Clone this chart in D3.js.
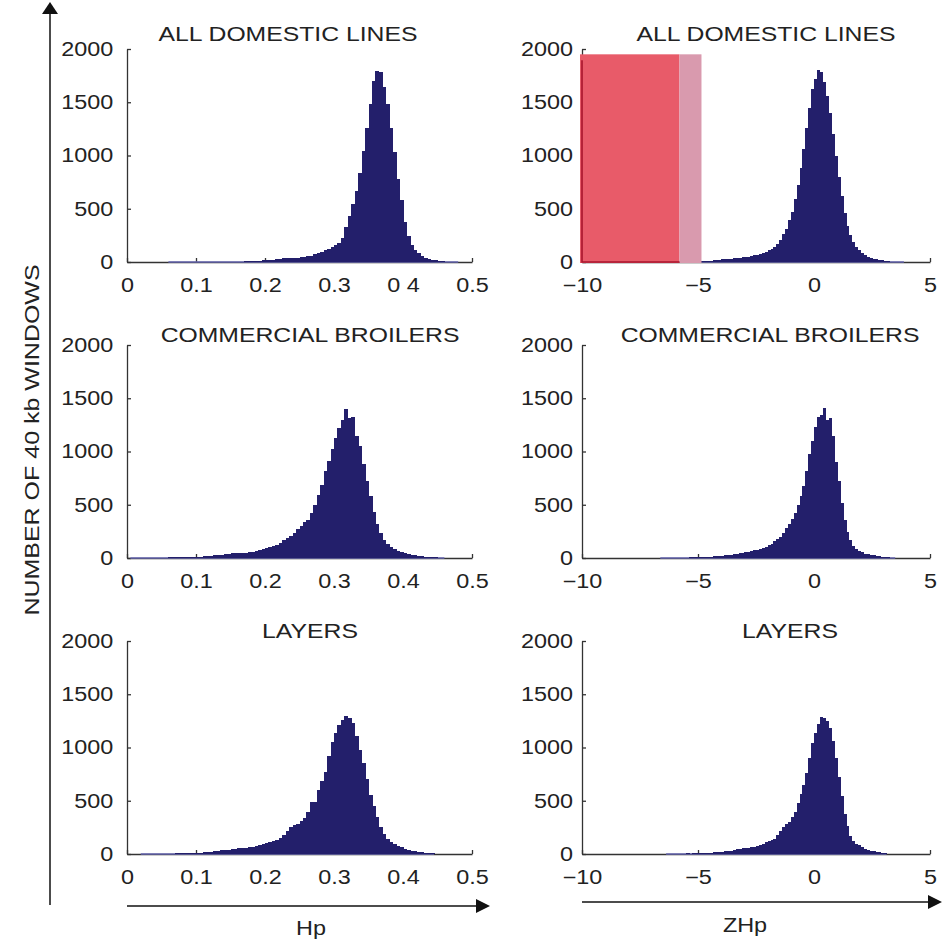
<!DOCTYPE html>
<html>
<head>
<meta charset="utf-8">
<script src="https://cdn.jsdelivr.net/npm/d3@7"></script>
<style>
  body { margin: 0; background: #fff; }
  svg text { font-family: "Liberation Sans", Arial, Helvetica, sans-serif; fill: #222; }
  .axis path, .axis line { stroke: #333; stroke-width: 1.3; }
  rect.bar { shape-rendering: crispEdges; }
</style>
</head>
<body>
<svg id="chart" width="942" height="940"></svg>
<script>
// ---- data ----
const titles = ['ALL DOMESTIC LINES', 'COMMERCIAL BROILERS', 'LAYERS'];
const hpTicks = [0, 0.1, 0.2, 0.3, 0.4, 0.5];
const zTicks = [-10, -5, 0, 5];
const yTicks = [0, 500, 1000, 1500, 2000];
const HP_BIN = 0.005;
const Z_BIN = 0.125;

// Hp histograms (counts per bin, first bin starts at *Start)
const allHpStart = 0.06;
const allHp = [1,1,1,2,1,1,2,1,1,2,2,1,2,2,2,3,2,3,3,3,4,4,5,
  8,9,10,12,15,20,22,22,25,30,34,33,38,40,42,45,48,52,60,72,82,92,108,120,138,158,180,225,
  330,430,540,670,840,1040,1260,1480,1700,1790,1780,1640,1480,1260,1030,780,580,380,240,160,
  110,82,60,42,30,22,18,10,6,3,2,1,1];

const broHpStart = 0.005;
const broHp = [2,1,3,2,1,3,2,3,4,3,4,5,5,6,6,7,8,9,10,12,14,15,18,22,26,28,32,38,42,44,45,47,48,50,
  55,60,66,72,82,90,100,112,125,145,165,185,205,235,270,305,335,360,420,500,590,690,820,910,1020,
  1130,1220,1300,1400,1310,1320,1150,1050,880,720,580,430,320,235,170,135,105,85,70,55,44,36,30,
  25,20,16,12,10,7,5,3,2];

const layHpStart = 0.02;
const layHp = [2,1,2,1,2,2,3,3,4,4,5,5,6,7,8,10,12,14,16,20,22,26,30,34,38,42,48,50,52,54,56,62,70,
  78,88,98,106,115,125,135,150,175,215,255,270,285,310,335,395,485,490,600,690,770,920,1050,1140,
  1210,1260,1295,1280,1230,1110,980,850,700,550,450,345,250,185,145,112,92,75,62,48,38,32,26,20,
  15,12,9,5];

// ZHp histograms
const allZStart = -5.75;
const allZ = [2,3,4,3,5,6,8,10,12,12,14,16,18,20,24,26,30,28,34,40,42,44,46,50,56,64,70,76,84,92,
  110,125,145,170,210,260,310,390,470,590,720,880,1060,1260,1450,1620,1720,1800,1780,1690,1560,
  1400,1200,1000,800,620,460,340,250,190,140,110,80,62,48,38,30,24,20,16,10,6,4,3,2,1,1];

const broZStart = -6.625;
const broZ = [1,1,2,1,3,2,2,3,4,3,5,5,6,8,10,12,12,14,15,16,18,20,24,27,30,34,40,44,48,52,58,64,72,
  78,86,95,105,120,135,155,175,200,235,280,320,370,420,500,580,680,820,980,1100,1230,1320,1340,
  1410,1300,1310,1150,900,720,520,360,240,170,115,85,65,52,42,34,28,24,20,16,13,10,6,3,2];

const layZStart = -6.375;
const layZ = [1,1,2,1,4,3,4,5,4,6,7,8,9,10,12,14,16,18,20,22,25,28,32,38,44,48,52,55,58,62,68,76,84,
  96,112,125,135,145,175,220,255,280,305,350,395,480,560,650,760,900,1040,1140,1220,1285,1280,
  1250,1180,1060,900,720,540,380,260,170,120,95,80,62,50,40,32,26,22,18,14,12];

// highlighted ZHp ranges (top-right panel)
const redZone = [-10, -5.8];
const pinkZone = [-5.8, -4.85];
const zoneTop = 1950;

// ---- layout ----
const svg = d3.select('#chart');
const cols = [{ x0: 127, x1: 472 }, { x0: 582, x1: 930 }];
const rowBase = [262, 558, 854];
const plotH = 213;
const titleX = [[288, 766], [310, 770], [310, 790]];
const titleY = [41, 342, 638];
const barColor = '#231f6b';

const panels = [
  [{ start: allHpStart, counts: allHp, bin: HP_BIN }, { start: allZStart, counts: allZ, bin: Z_BIN }],
  [{ start: broHpStart, counts: broHp, bin: HP_BIN }, { start: broZStart, counts: broZ, bin: Z_BIN }],
  [{ start: layHpStart, counts: layHp, bin: HP_BIN }, { start: layZStart, counts: layZ, bin: Z_BIN }]
];

panels.forEach((row, r) => {
  row.forEach((p, c) => {
    const isHp = c === 0;
    const x = d3.scaleLinear()
      .domain(isHp ? [0, 0.5] : [-10, 5])
      .range([cols[c].x0, cols[c].x1]);
    const y = d3.scaleLinear()
      .domain([0, 2000])
      .range([rowBase[r], rowBase[r] - plotH]);

    const g = svg.append('g');

    // axes, MATLAB style with inward ticks
    let fmt = isHp ? (d => d === 0 ? '0' : d3.format('.1f')(d)) : d3.format('d');
    if (r === 0 && isHp) fmt = d => d === 0.4 ? '0 4' : (d === 0 ? '0' : d3.format('.1f')(d));
    const xAxis = d3.axisBottom(x).tickValues(isHp ? hpTicks : zTicks)
      .tickFormat(fmt).tickSizeInner(-4).tickSizeOuter(0).tickPadding(16);
    const yAxis = d3.axisLeft(y).tickValues(yTicks).tickFormat(d3.format('d'))
      .tickSizeInner(-4).tickSizeOuter(0).tickPadding(isHp ? 11.5 : 7.5);

    g.append('g').attr('class', 'axis')
      .attr('transform', `translate(0,${rowBase[r]})`).call(xAxis);
    g.append('g').attr('class', 'axis')
      .attr('transform', `translate(${cols[c].x0},0)`).call(yAxis);
    g.selectAll('.axis text')
      .attr('font-size', 19.5)
      .attr('font-family', null)
      .attr('fill', '#222')
      .attr('transform', 'scale(1.2,1)');

    // histogram
    const bins = p.counts.map((v, i) => ({ x0: p.start + i * p.bin, v }));
    const last = bins[bins.length - 1];
    g.append('line')
      .attr('x1', x(bins[0].x0)).attr('x2', x(last.x0 + p.bin))
      .attr('y1', y(0)).attr('y2', y(0))
      .attr('stroke', '#6666b0').attr('stroke-width', 1.5);
    g.selectAll('rect.bar').data(bins).join('rect')
      .attr('class', 'bar')
      .attr('x', d => x(d.x0))
      .attr('width', d => x(d.x0 + p.bin) - x(d.x0) + 0.6)
      .attr('y', d => y(d.v))
      .attr('height', d => y(0) - y(d.v))
      .attr('fill', barColor);

    // highlighted regions
    if (r === 0 && !isHp) {
      g.append('rect')
        .attr('x', x(redZone[0]) - 2).attr('width', x(redZone[1]) - x(redZone[0]) + 2)
        .attr('y', y(zoneTop)).attr('height', y(0) - y(zoneTop) + 1)
        .attr('fill', '#e85b69');
      g.append('rect')
        .attr('x', x(pinkZone[0])).attr('width', x(pinkZone[1]) - x(pinkZone[0]))
        .attr('y', y(zoneTop)).attr('height', y(0) - y(zoneTop) + 1)
        .attr('fill', '#d99aae');
      g.append('path')
        .attr('d', `M${x(redZone[0])},${y(zoneTop) + 6}V${y(0)}H${x(redZone[1])}`)
        .attr('fill', 'none').attr('stroke', '#a8142c').attr('stroke-width', 1.6);
    }

    g.append('text')
      .attr('transform', `translate(${titleX[r][c]},${titleY[r]}) scale(1.27,1)`)
      .attr('text-anchor', 'middle')
      .attr('font-size', 19.5)
      .text(titles[r]);
  });
});

// ---- outer arrows and labels ----
svg.append('line').attr('x1', 50).attr('x2', 50).attr('y1', 905).attr('y2', 12)
  .attr('stroke', '#111').attr('stroke-width', 1.5);
svg.append('path').attr('d', 'M42,14 L50,2 L58,14 Z').attr('fill', '#111');

svg.append('line').attr('x1', 127).attr('x2', 478).attr('y1', 906).attr('y2', 906)
  .attr('stroke', '#111').attr('stroke-width', 1.5);
svg.append('path').attr('d', 'M476,899 L490,906 L476,913 Z').attr('fill', '#111');

svg.append('line').attr('x1', 582).attr('x2', 930).attr('y1', 902).attr('y2', 902)
  .attr('stroke', '#111').attr('stroke-width', 1.5);
svg.append('path').attr('d', 'M928,895 L942,902 L928,909 Z').attr('fill', '#111');

svg.append('text')
  .attr('transform', 'translate(39,440) rotate(-90) scale(1.19,1)')
  .attr('text-anchor', 'middle')
  .attr('font-size', 21)
  .text('NUMBER OF 40 kb WINDOWS');

svg.append('text')
  .attr('transform', 'translate(311,935) scale(1.2,1)')
  .attr('text-anchor', 'middle').attr('font-size', 19.5)
  .text('Hp');
svg.append('text')
  .attr('transform', 'translate(745,932) scale(1.2,1)')
  .attr('text-anchor', 'middle').attr('font-size', 19.5)
  .text('ZHp');
</script>
</body>
</html>
